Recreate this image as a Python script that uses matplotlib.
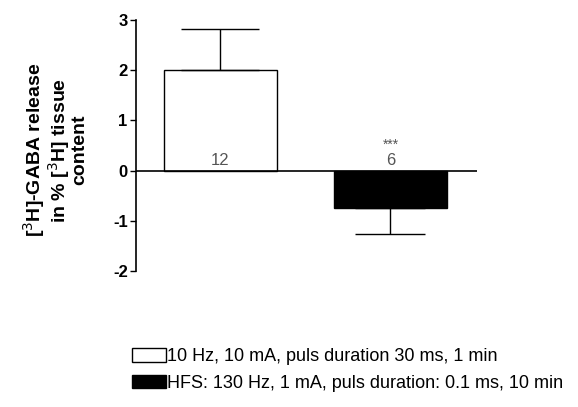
import matplotlib.pyplot as plt
from matplotlib.patches import Patch

plt.rcParams['font.family'] = ['Liberation Sans', 'DejaVu Sans']

# data
conditions = ["10 Hz, 10 mA, puls duration 30 ms, 1 min",
              "HFS: 130 Hz, 1 mA, puls duration: 0.1 ms, 10 min"]
means = [2.0, -0.74]
sems = [0.83, 0.53]
n_labels = ["12", "6"]
signif = ["", "***"]
colors = ["white", "black"]

fig = plt.figure(figsize=(5.78, 4.07), dpi=100)
ax = fig.add_axes([136/578, 1-271/407, (477-136)/578, (271-20)/407])

x = [0, 1]
for i in range(2):
    ax.bar(x[i], means[i], width=0.665, color=colors[i], edgecolor="black", linewidth=1.0, zorder=2)
    sign = 1 if means[i] > 0 else -1
    ax.errorbar(x[i], means[i], yerr=[[0] if sign > 0 else [sems[i]], [sems[i]] if sign > 0 else [0]],
                color="black", capsize=28 if i == 0 else 25, elinewidth=1.0, capthick=1.0, zorder=3)

ax.axhline(0, color="black", linewidth=1.2, zorder=4)
ax.text(x[0], 0.06, n_labels[0], ha="center", va="bottom", fontsize=12, color="#555555")
ax.text(x[1], 0.06, n_labels[1], ha="center", va="bottom", fontsize=12, color="#555555")
ax.text(x[1], 0.38, signif[1], ha="center", va="bottom", fontsize=10, color="#555555")

ax.set_xlim(-0.497, 1.509)
ax.set_ylim(-2, 3)
ax.set_yticks([-2, -1, 0, 1, 2, 3])
ax.set_yticklabels(["-2", "-1", "0", "1", "2", "3"], fontweight="bold", fontsize=12)
ax.tick_params(axis="y", direction="out", length=4, width=1, pad=2)
ax.set_xticks([])
for s in ["top", "right", "bottom"]:
    ax.spines[s].set_visible(False)
ax.spines["left"].set_linewidth(1.2)

fig.text(55/578, 1-150/407, "[$^3$H]-GABA release\nin % [$^3$H] tissue\ncontent",
         rotation=90, ha="center", va="center", fontsize=14, fontweight="bold",
         linespacing=0.95)

handles = [Patch(facecolor=colors[i], edgecolor="black", label=conditions[i]) for i in range(2)]
fig.legend(handles=handles, loc="upper left", bbox_to_anchor=(125/578, 1-341/407),
           frameon=False, fontsize=13, handlelength=1.85, handleheight=0.75,
           handletextpad=0.05, labelspacing=0.55, borderaxespad=0)

fig.savefig("out.png", dpi=100)
